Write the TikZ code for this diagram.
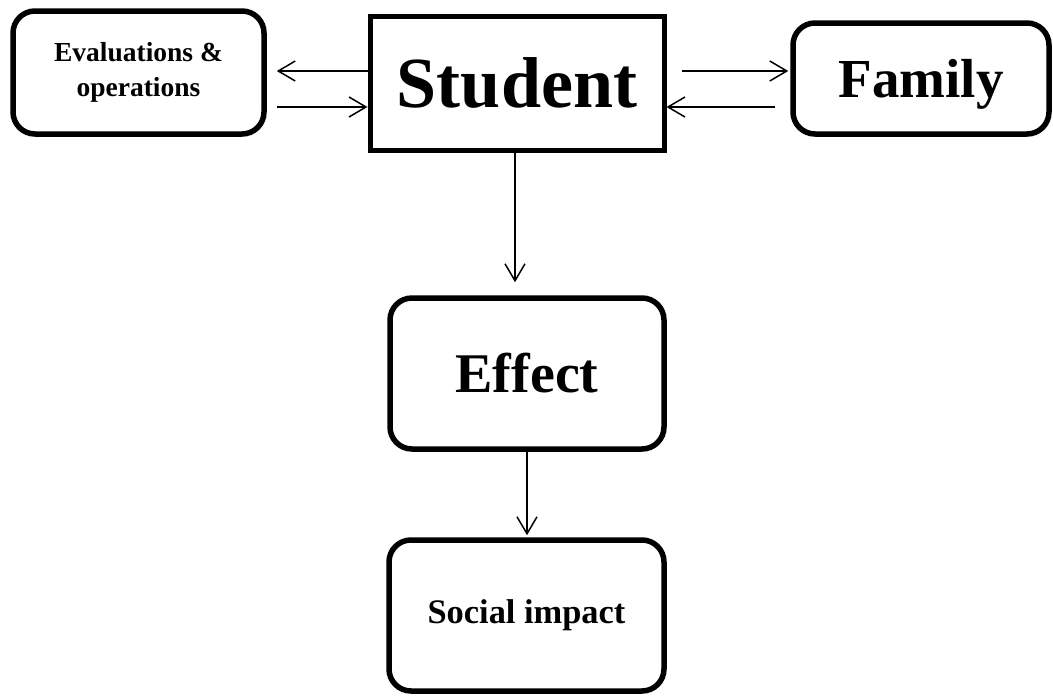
\documentclass[tikz,border=0pt]{standalone}
\usepackage{fontspec}
\setmainfont{Liberation Serif}
\usetikzlibrary{arrows.meta}
\begin{document}
\begin{tikzpicture}[x=1pt,y=-1pt,
  box/.style={draw=black,line width=5.5pt,rounded corners=22pt,align=center,inner sep=0pt,font=\bfseries},
  sqbox/.style={draw=black,line width=5pt,align=center,inner sep=0pt,font=\bfseries},
  arr/.style={line width=1.5pt,-{Straight Barb[length=17pt,width=20pt,line width=1.5pt]}}]
\useasboundingbox (0,0) rectangle (1053,696);
\node[box,minimum width=251pt,minimum height=123pt,font=\bfseries\fontsize{27.5}{35}\selectfont] (eval) at (138.5,72.5) {Evaluations \&\\operations};
\node[sqbox,minimum width=294pt,minimum height=134pt,font=\bfseries\fontsize{72}{80}\selectfont] (student) at (517,83) {Student};
\node[box,minimum width=256pt,minimum height=111pt,text depth=0pt,font=\bfseries\fontsize{55}{60}\selectfont] (family) at (921,78.5) {Family};
\node[box,minimum width=274pt,minimum height=151pt,font=\bfseries\fontsize{56}{60}\selectfont] (effect) at (527,373.5) {Effect};
\node[box,minimum width=275pt,minimum height=151pt,font=\bfseries\fontsize{34.4}{40}\selectfont] (social) at (526.5,615.5) {Social impact};
% left pair
\draw[arr,shorten >=10pt] ([yshift=12pt]student.west) -- ([yshift=12pt]student.west -| eval.east);
\draw[arr,shorten <=10pt] ([yshift=-24pt]student.west -| eval.east) -- ([yshift=-24pt]student.west);
% right pair
\draw[arr,shorten <=15pt,shorten >=2pt] ([yshift=12pt]student.east) -- ([yshift=12pt]student.east -| family.west);
\draw[arr,shorten <=15pt] ([yshift=-24pt]student.east -| family.west) -- ([yshift=-24pt]student.east);
% vertical
\draw[arr,shorten >=13pt] ([xshift=-2pt]student.south) -- ([xshift=-2pt]student.south |- effect.north);
\draw[arr,shorten >=2pt] (effect.south) -- (effect.south |- social.north);
\end{tikzpicture}
\end{document}
